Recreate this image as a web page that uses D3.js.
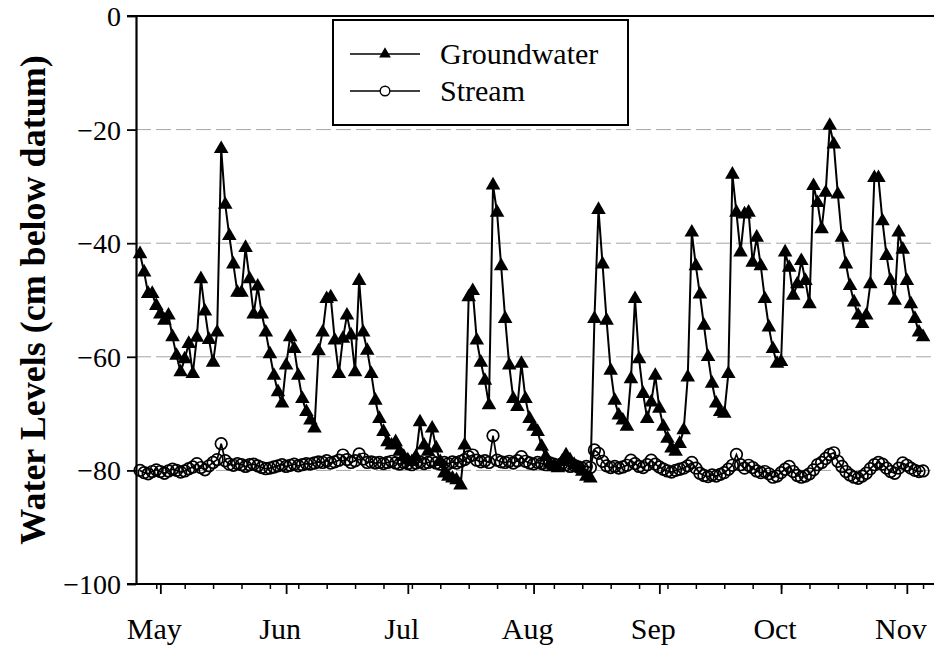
<!DOCTYPE html>
<html>
<head>
<meta charset="utf-8">
<script src="https://cdn.jsdelivr.net/npm/d3@7"></script>
<style>
  body { margin: 0; background: #fff; }
  svg { display: block; }
</style>
</head>
<body>
<div class="vis-levels"></div>
<script>
// daily readings, starting 26 April
const startDate = new Date(1995, 3, 26);

const groundwater = [
  -41.9, -45.1, -48.9, -48.9, -51, -52.5, -53.6, -52.7, -56.5, -59.8,
  -62.7, -60.4, -57.7, -63, -56.6, -46.3, -52, -57, -61, -55.7,
  -23.4, -33.2, -38.7, -43.7, -48.7, -48.7, -40.8, -46.3, -52.5, -47.6,
  -52.5, -55.7, -59.5, -63.3, -66.2, -68.2, -61.5, -56.5, -58.6, -63.3,
  -67.4, -69.7, -71.2, -72.6, -59,
  -55.7, -49.8, -49.5, -57.1, -63, -56.8, -52.7, -56.2, -62.7, -46.6,
  -55.7, -58.9, -63, -67.7, -70.9, -73.2, -75, -75.6, -75, -76.7,
  -77.6, -78.2, -78.5, -77.6, -71.5, -75.6, -76.7, -72.6, -76.1, -78.5,
  -80.5, -81.1, -81.4, -81.7, -82.6, -75.6, -49.5, -48.4, -57.1, -61,
  -64.2, -68.5, -29.8, -34.6,
  -44, -53.3, -61.5, -67.4, -68.8, -61.2, -67.4, -70.9, -72.3, -73.2,
  -75.8, -77.6, -78.8, -79.4, -79.6, -78.5, -77.3, -78.2, -79, -79.6,
  -80.2, -81.1, -81.4, -53.3, -34.1, -43.7, -53.6, -62.4, -67.7, -70.3,
  -71.2, -72.3, -63.9, -49.8, -60.4, -66.5, -70.9, -68, -63.3, -69.1,
  -72.3, -74.4, -76.1, -76.7,
  -75.3, -72.9, -63.6, -38.1, -44, -49, -54.5, -60, -64.7, -68.2,
  -69.7, -70, -63, -27.9, -34.6, -41.6, -34.9, -34.6, -43.4, -39,
  -44, -49.8, -54.8, -58.6, -61.2, -60.9, -41.6, -44.3, -49.2, -47.2,
  -43.1, -46.6, -50.7, -29.9, -32.9, -37.5, -31.1, -19.3, -22.6, -31.4,
  -39, -43.7, -47.5, -50.4, -52.7, -54.2, -52.7, -47.2, -28.5, -28.5,
  -36.1, -42.2, -46.6, -50.1, -38.1, -41.1, -46.6, -50.7, -53.3, -55.7,
  -56.5
];

const stream = [
  -80.0, -80.4, -80.6, -80.2, -79.9, -80.2, -80.5, -80.1, -79.8, -80.0,
  -80.3, -80.1, -79.7, -79.4, -78.8, -79.5, -79.9, -79.2, -78.6, -78.1,
  -75.3, -78.3, -78.9, -79.1, -78.8, -79.0, -79.3, -79.0, -78.9, -79.2,
  -79.5, -79.7, -79.6, -79.4, -79.2, -79.0, -79.3, -79.1, -78.9, -79.2,
  -79.0, -78.8, -78.9, -78.7, -78.5, -78.6, -78.3, -78.7, -78.5, -78.2,
  -77.3, -78.1, -78.6, -78.3, -77.1, -78.0, -78.6, -78.5, -78.7, -78.6,
  -78.8, -78.6, -78.4, -78.7, -78.9, -78.6, -78.8, -79.0, -78.7, -78.5,
  -78.8, -78.6, -78.4, -78.7, -78.9, -78.6, -78.8, -78.5, -78.7, -78.4,
  -78.1, -77.6, -77.3, -78.2, -78.5, -78.3, -78.6, -73.9, -78.2, -78.5,
  -78.6, -78.4, -78.7, -78.3, -77.6, -78.4, -78.7, -78.9, -78.6, -78.8,
  -79.0, -78.7, -78.9, -79.1, -78.8, -79.0, -79.3, -79.1, -79.4, -79.6,
  -79.3, -79.5, -76.4, -77.0, -78.4, -79.2, -79.5, -79.3, -79.6, -79.4,
  -79.1, -78.2, -78.8, -79.3, -79.5, -79.0, -78.2, -78.9, -79.4, -79.8,
  -80.1, -80.3, -80.0, -79.8, -79.6, -79.2, -78.6, -79.6, -80.5, -80.9,
  -81.1, -80.8, -81.0, -80.7, -80.4, -79.8, -79.1, -77.2, -79.0, -79.6,
  -79.1, -79.5, -80.1, -80.4, -80.2, -80.6, -81.2, -81.0, -80.4, -79.8,
  -79.3, -80.2, -80.9, -81.2, -81.0, -80.6, -79.9, -79.0, -78.6, -77.9,
  -77.2, -76.9, -78.4, -79.3, -80.2, -80.8, -81.2, -81.4, -81.0, -80.5,
  -79.7, -79.0, -78.6, -78.9, -79.6, -80.2, -80.5, -79.6, -78.7, -79.1,
  -79.6, -80.0, -80.2, -80.1
];

const yTicks = [0, -20, -40, -60, -80, -100];
const gridLevels = [-20, -40, -60, -80];
const monthNames = ['May', 'Jun', 'Jul', 'Aug', 'Sep', 'Oct', 'Nov'];
const seriesNames = ['Groundwater', 'Stream'];

const width = 934;
const height = 646;
const serif = '"Liberation Serif", "Times New Roman", serif';

const svg = d3
  .select('.vis-levels')
  .append('svg')
  .attr('width', width)
  .attr('height', height);

const x = d3
  .scaleTime()
  .domain([new Date(1995, 3, 25), new Date(1995, 10, 10)])
  .range([136, 136 + 199 * 4.057]);

const y = d3.scaleLinear().domain([-100, 0]).range([584, 16]);

const dayOf = (i) => d3.timeDay.offset(startDate, i);

// dotted grid
svg
  .selectAll('.grid')
  .data(gridLevels)
  .enter()
  .append('line')
  .attr('class', 'grid')
  .attr('x1', 136)
  .attr('x2', width)
  .attr('y1', (d) => y(d))
  .attr('y2', (d) => y(d))
  .attr('stroke', '#a6a6a6')
  .attr('stroke-width', 1)
  .attr('stroke-dasharray', '15,5');

// top frame line at 0
svg
  .append('line')
  .attr('x1', 127)
  .attr('x2', width)
  .attr('y1', y(0))
  .attr('y2', y(0))
  .attr('stroke', '#000')
  .attr('stroke-width', 2);

// y axis
const yAxis = svg
  .append('g')
  .attr('transform', 'translate(136,0)')
  .call(d3.axisLeft(y).tickValues(yTicks).tickSize(9).tickSizeOuter(0).tickPadding(6));
yAxis.select('.domain').attr('stroke-width', 2.2);
yAxis.selectAll('.tick line').attr('stroke-width', 1.8);
yAxis
  .selectAll('.tick text')
  .attr('font-family', serif)
  .attr('font-size', 28)
  .attr('fill', '#000')
  .attr('dy', '0.34em');

// x axis: weekly minor ticks, monthly major ticks
const xWeek = svg
  .append('g')
  .attr('transform', 'translate(0,584)')
  .call(d3.axisBottom(x).ticks(d3.timeWeek.every(1)).tickSize(5).tickSizeOuter(0).tickFormat(''));
xWeek.select('.domain').remove();
xWeek.selectAll('.tick line').attr('stroke-width', 1.5);

const xMonth = svg
  .append('g')
  .attr('transform', 'translate(0,584)')
  .call(d3.axisBottom(x).ticks(d3.timeMonth.every(1)).tickSize(10).tickSizeOuter(0).tickFormat(''));
xMonth.select('.domain').remove();
xMonth.selectAll('.tick line').attr('stroke-width', 1.8);

svg
  .append('line')
  .attr('x1', 127)
  .attr('x2', width)
  .attr('y1', 584)
  .attr('y2', 584)
  .attr('stroke', '#000')
  .attr('stroke-width', 2.2);

svg
  .selectAll('.month')
  .data(monthNames)
  .enter()
  .append('text')
  .attr('class', 'month')
  .attr('x', (d, i) => x(new Date(1995, 4 + i, 1)) - 6)
  .attr('y', 639)
  .attr('text-anchor', 'middle')
  .attr('font-family', serif)
  .attr('font-size', 30)
  .text((d) => d);

// y title
svg
  .append('text')
  .attr('transform', 'translate(45,300) rotate(-90)')
  .attr('text-anchor', 'middle')
  .attr('font-family', serif)
  .attr('font-weight', 'bold')
  .attr('font-size', 36)
  .text('Water Levels (cm below datum)');

const line = d3
  .line()
  .x((d, i) => x(dayOf(i)))
  .y((d) => y(d));

const tri = d3.symbol().type(d3.symbolTriangle).size(92);

// stream
svg
  .append('path')
  .attr('d', line(stream))
  .attr('fill', 'none')
  .attr('stroke', '#000')
  .attr('stroke-width', 1.7);

svg
  .selectAll('.stream')
  .data(stream)
  .enter()
  .append('circle')
  .attr('class', 'stream')
  .attr('cx', (d, i) => x(dayOf(i)))
  .attr('cy', (d) => y(d))
  .attr('r', 5.8)
  .attr('fill', 'none')
  .attr('stroke', '#000')
  .attr('stroke-width', 1.7);

// groundwater
svg
  .append('path')
  .attr('d', line(groundwater))
  .attr('fill', 'none')
  .attr('stroke', '#000')
  .attr('stroke-width', 2);

svg
  .selectAll('.gw')
  .data(groundwater)
  .enter()
  .append('path')
  .attr('class', 'gw')
  .attr('transform', (d, i) => 'translate(' + x(dayOf(i)) + ',' + y(d) + ')')
  .attr('d', tri)
  .attr('fill', '#000');

// legend
const legend = svg.append('g');
legend
  .append('rect')
  .attr('x', 333)
  .attr('y', 20)
  .attr('width', 295)
  .attr('height', 105)
  .attr('fill', '#fff')
  .attr('stroke', '#000')
  .attr('stroke-width', 2);

const legendG = legend
  .selectAll('.legend')
  .data(seriesNames)
  .enter()
  .append('g')
  .attr('class', 'legend')
  .attr('transform', (d, i) => 'translate(0,' + (54 + i * 37) + ')');

legendG
  .append('line')
  .attr('x1', 350)
  .attr('x2', 420)
  .attr('stroke', '#000')
  .attr('stroke-width', 1.5);

legendG
  .filter((d, i) => i === 0)
  .append('path')
  .attr('transform', 'translate(385,0)')
  .attr('d', d3.symbol().type(d3.symbolTriangle).size(60))
  .attr('fill', '#000');

legendG
  .filter((d, i) => i === 1)
  .append('circle')
  .attr('cx', 385)
  .attr('r', 4.8)
  .attr('fill', '#fff')
  .attr('stroke', '#000')
  .attr('stroke-width', 1.4);

legendG
  .append('text')
  .attr('x', 440)
  .attr('y', 10)
  .attr('font-family', serif)
  .attr('font-size', 30)
  .text((d) => d);
</script>
</body>
</html>
